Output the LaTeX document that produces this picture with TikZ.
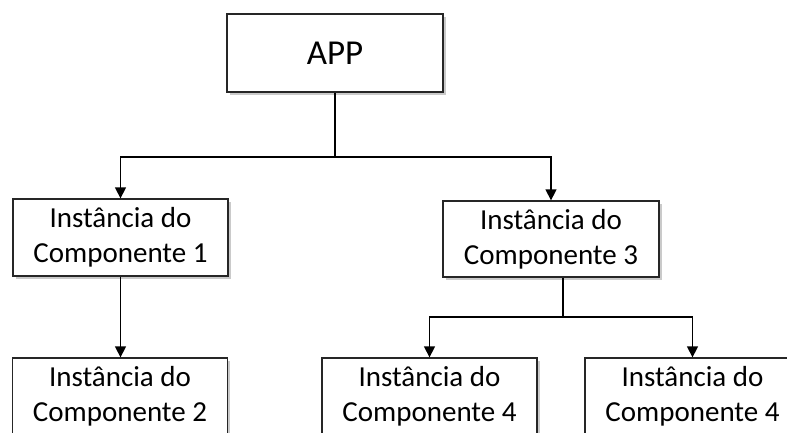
\documentclass[tikz,border=0pt]{standalone}
\usepackage{fontspec}
\setmainfont{Carlito}
\usetikzlibrary{arrows.meta,shadows}
\begin{document}
\begin{tikzpicture}[x=1pt,y=-1pt,
  box/.style={draw=black!85, line width=1.3pt, fill=white, align=center,
    inner sep=0pt, minimum width=#1, minimum height=77pt,
    drop shadow={shadow xshift=2.5pt, shadow yshift=-2.5pt, opacity=0.35, fill=black!60}},
  box/.default=215pt,
  lbl/.style={font=\fontsize{29}{35}\selectfont},
  conn/.style={line width=1.3pt, draw=black},
  arr/.style={conn, -{Triangle[length=11pt,width=11pt]}}]
\useasboundingbox (0,0) rectangle (787,432);
\clip (0,0) rectangle (787,432);
\node[box=216pt, minimum height=78pt, font=\fontsize{35}{42}\selectfont] (app) at (335,53) {APP};
\node[box, lbl] (c1) at (120.5,237.5) {Instância do\\Componente 1};
\node[box=216pt, minimum height=76pt, lbl] (c3) at (551,239) {Instância do\\Componente 3};
\node[box, lbl] (c2) at (120,396.5) {Instância do\\Componente 2};
\node[box, lbl] (c4a) at (429.5,396.5) {Instância do\\Componente 4};
\node[box, lbl] (c4b) at (692.5,396.5) {Instância do\\Componente 4};
\coordinate (j1) at (335,157);
\coordinate (j2) at (563,317);
\draw[conn] (app.south) -- (j1);
\draw[arr] (j1) -| (c1.north);
\draw[arr] (j1) -| (c3.north);
\draw[arr] (c1.south) -- (c1.south |- c2.north);
\draw[conn] (c3.south -| j2) -- (j2);
\draw[arr] (j2) -| (c4a.north);
\draw[arr] (j2) -| (c4b.north);
\end{tikzpicture}
\end{document}
